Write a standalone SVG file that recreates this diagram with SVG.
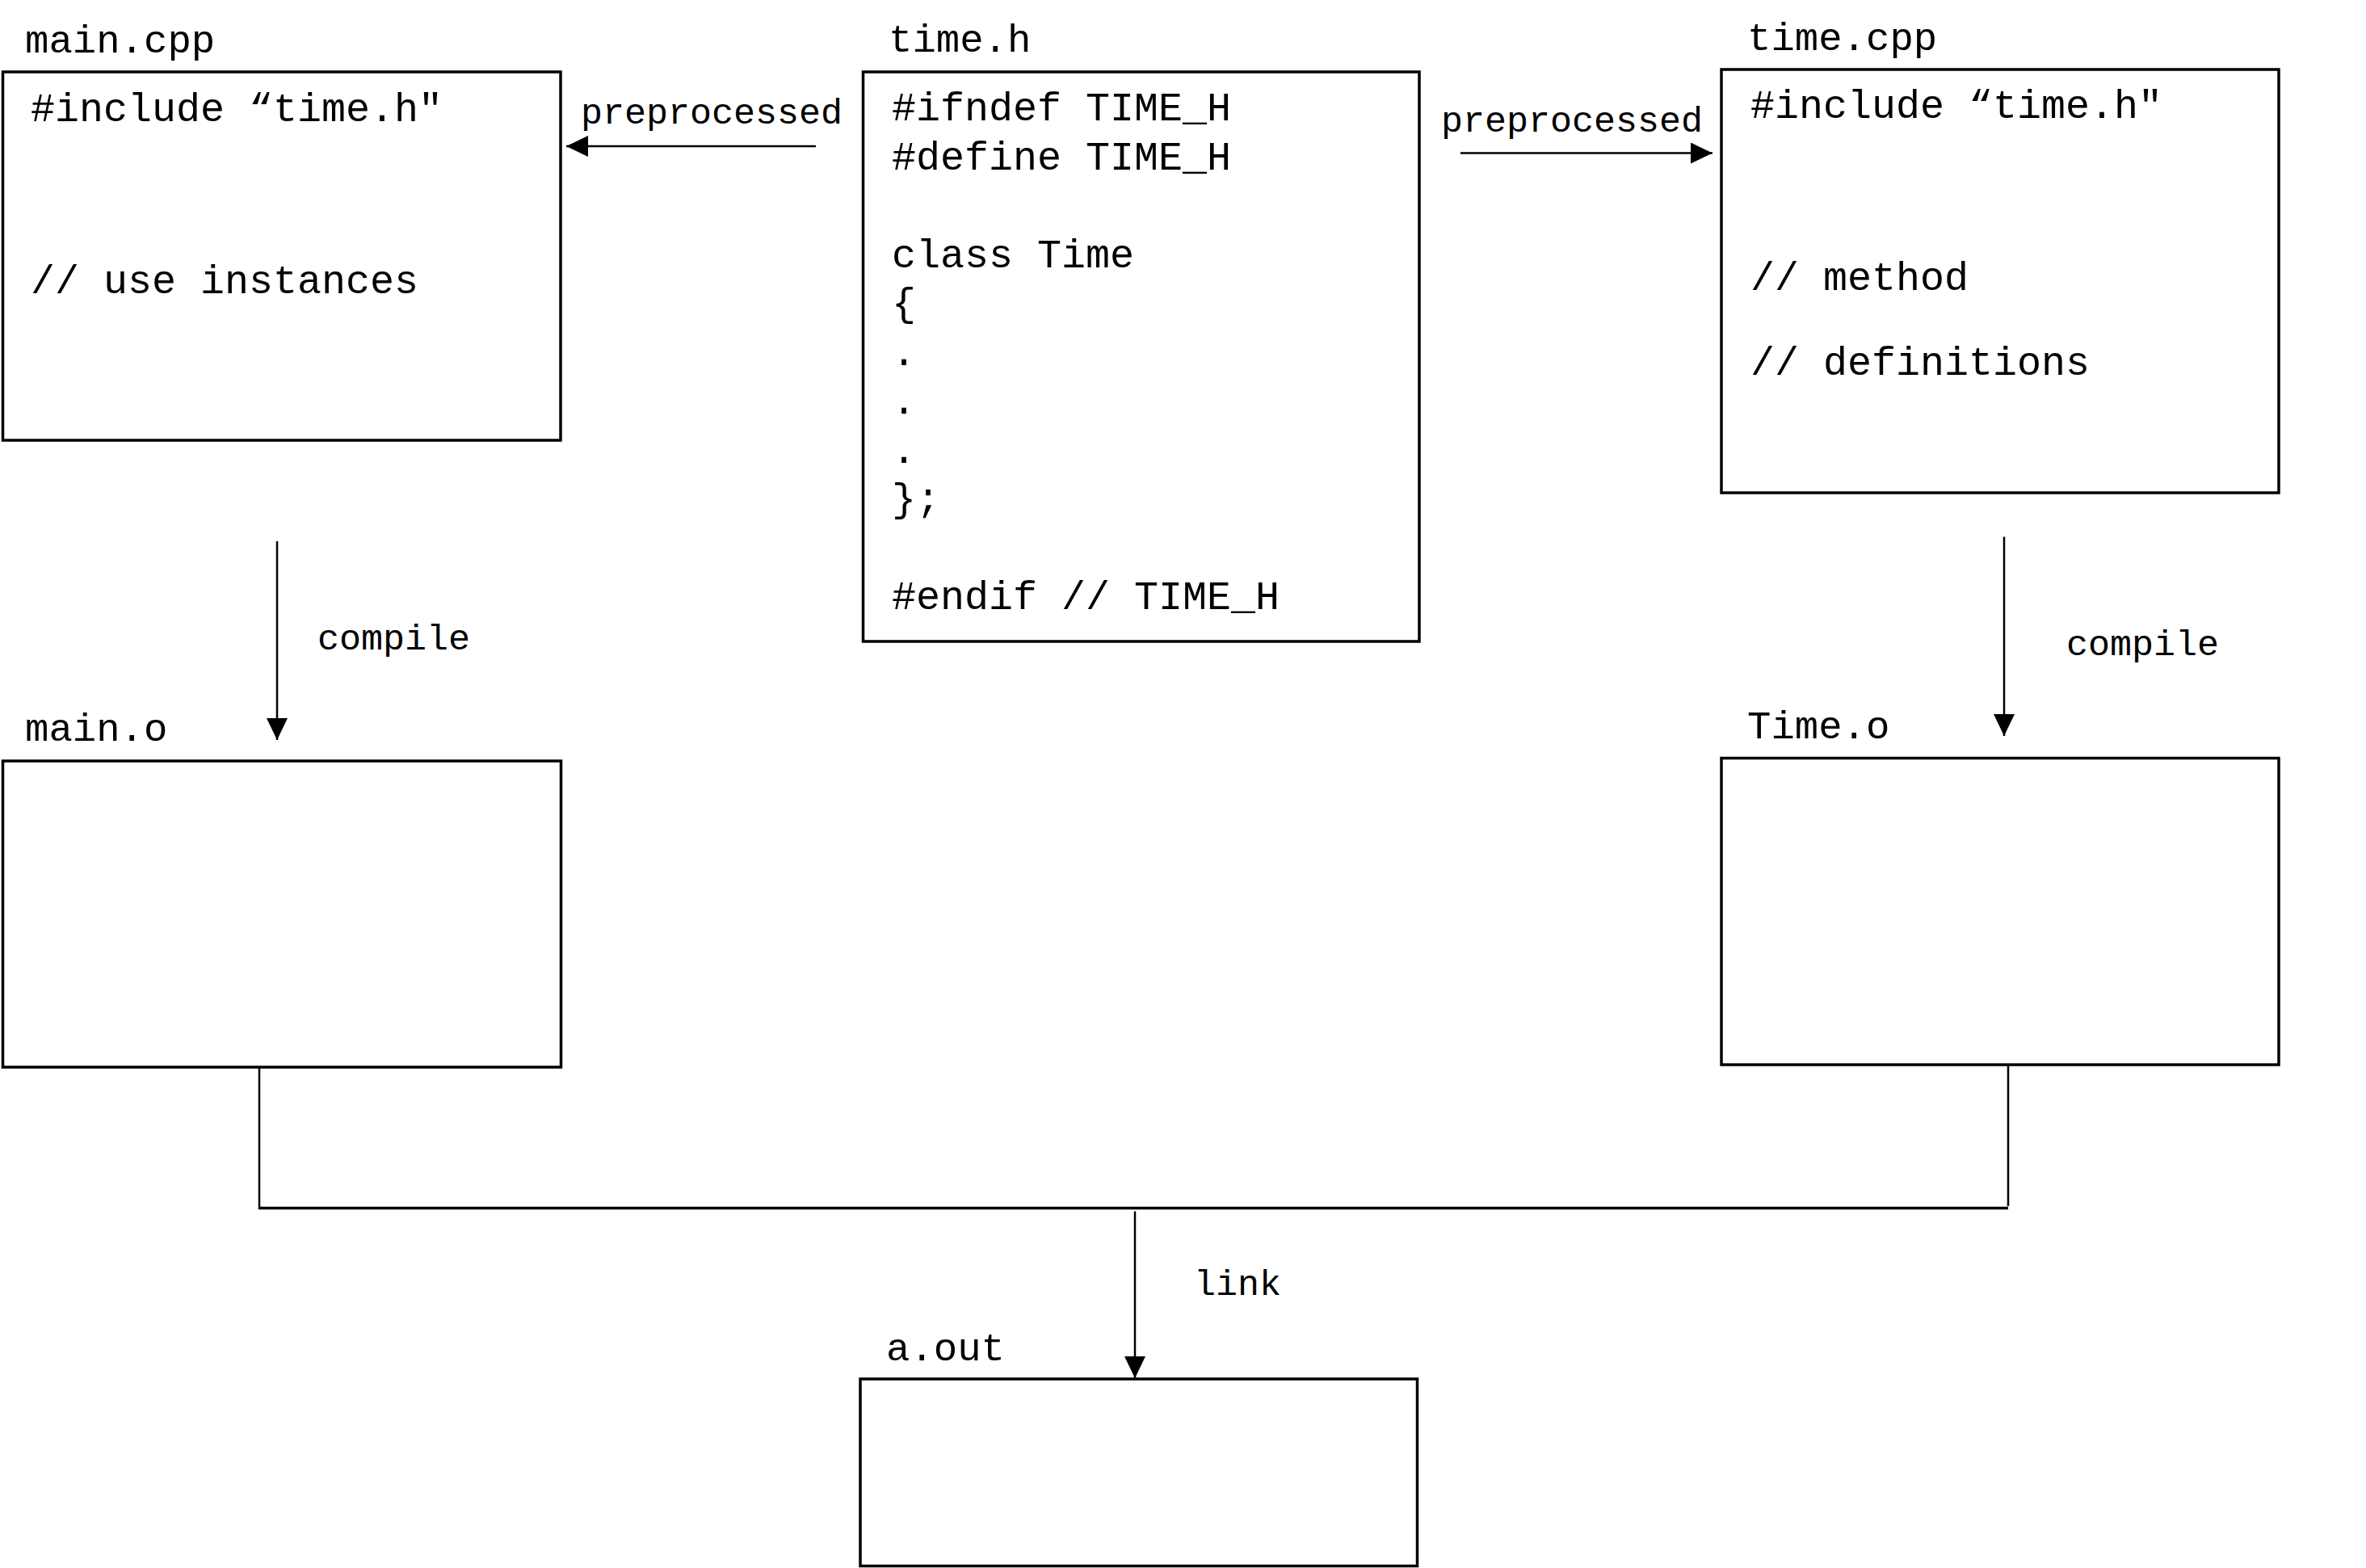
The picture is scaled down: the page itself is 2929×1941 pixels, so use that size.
<svg xmlns="http://www.w3.org/2000/svg" width="2929" height="1941" viewBox="0 0 2929 1941">
<style>
.box{fill:#fff;stroke:#000;stroke-width:3.5}
.code{font-family:"Liberation Mono","Courier New",monospace;font-size:50px;fill:#000}
.title{font-family:"Liberation Mono","Courier New",monospace;font-size:49px;fill:#000}
.lbl{font-family:"Liberation Mono","Courier New",monospace;font-size:45px;fill:#000}
.ln{fill:none;stroke:#000;stroke-width:2.5}
.thick{fill:none;stroke:#000;stroke-width:3.5}
</style>
<defs>
<marker id="ah" markerUnits="userSpaceOnUse" markerWidth="28" markerHeight="28" refX="27" refY="13" orient="auto">
<path d="M0,0 L27,13 L0,26 Z" fill="#000"/>
</marker>
</defs>
<rect width="2929" height="1941" fill="#fff"/>
<g id="main_cpp">
<text class="title" x="31" y="65">main.cpp</text>
<rect class="box" x="3.5" y="89" width="690.5" height="456"/>
<text class="code" x="38" y="150">#include “time.h"</text>
<text class="code" x="38" y="363">// use instances</text>
</g>
<g id="time_h">
<text class="title" x="1100" y="64">time.h</text>
<rect class="box" x="1068.5" y="89" width="688.5" height="705"/>
<text class="code" x="1104" y="149">#ifndef TIME_H</text>
<text class="code" x="1104" y="209.5">#define TIME_H</text>
<text class="code" x="1104" y="330.5">class Time</text>
<text class="code" x="1104" y="391">{</text>
<text class="code" x="1104" y="451.5">.</text>
<text class="code" x="1104" y="512">.</text>
<text class="code" x="1104" y="572.5">.</text>
<text class="code" x="1104" y="633">};</text>
<text class="code" x="1104" y="754">#endif // TIME_H</text>
</g>
<g id="time_cpp">
<text class="title" x="2163" y="62">time.cpp</text>
<rect class="box" x="2131" y="86" width="690" height="524"/>
<text class="code" x="2167" y="145.5">#include “time.h"</text>
<text class="code" x="2167" y="359">// method</text>
<text class="code" x="2167" y="464">// definitions</text>
</g>
<g id="main_o">
<text class="title" x="31" y="917">main.o</text>
<rect class="box" x="3.5" y="942" width="691" height="379"/>
</g>
<g id="time_o">
<text class="title" x="2163" y="914">Time.o</text>
<rect class="box" x="2131" y="938.5" width="690" height="379.5"/>
</g>
<g id="a_out">
<text class="title" x="1097" y="1684">a.out</text>
<rect class="box" x="1065" y="1707" width="689.5" height="231.5"/>
</g>
<g id="connectors">
<line class="ln" x1="1010" y1="181" x2="701" y2="181" marker-end="url(#ah)"/>
<text class="lbl" x="719" y="153">preprocessed</text>
<line class="ln" x1="1808" y1="189.5" x2="2120" y2="189.5" marker-end="url(#ah)"/>
<text class="lbl" x="1784" y="163">preprocessed</text>
<line class="ln" x1="343" y1="670" x2="343" y2="916" marker-end="url(#ah)"/>
<text class="lbl" x="393" y="804">compile</text>
<line class="ln" x1="2481" y1="664.5" x2="2481" y2="911" marker-end="url(#ah)"/>
<text class="lbl" x="2558" y="811">compile</text>
<line class="ln" x1="321" y1="1321" x2="321" y2="1497"/>
<line class="ln" x1="2486" y1="1318" x2="2486" y2="1493"/>
<line class="thick" x1="321" y1="1495.5" x2="2486" y2="1495.5"/>
<line class="ln" x1="1405" y1="1499.5" x2="1405" y2="1706" marker-end="url(#ah)"/>
<text class="lbl" x="1478" y="1602.5">link</text>
</g>
</svg>
